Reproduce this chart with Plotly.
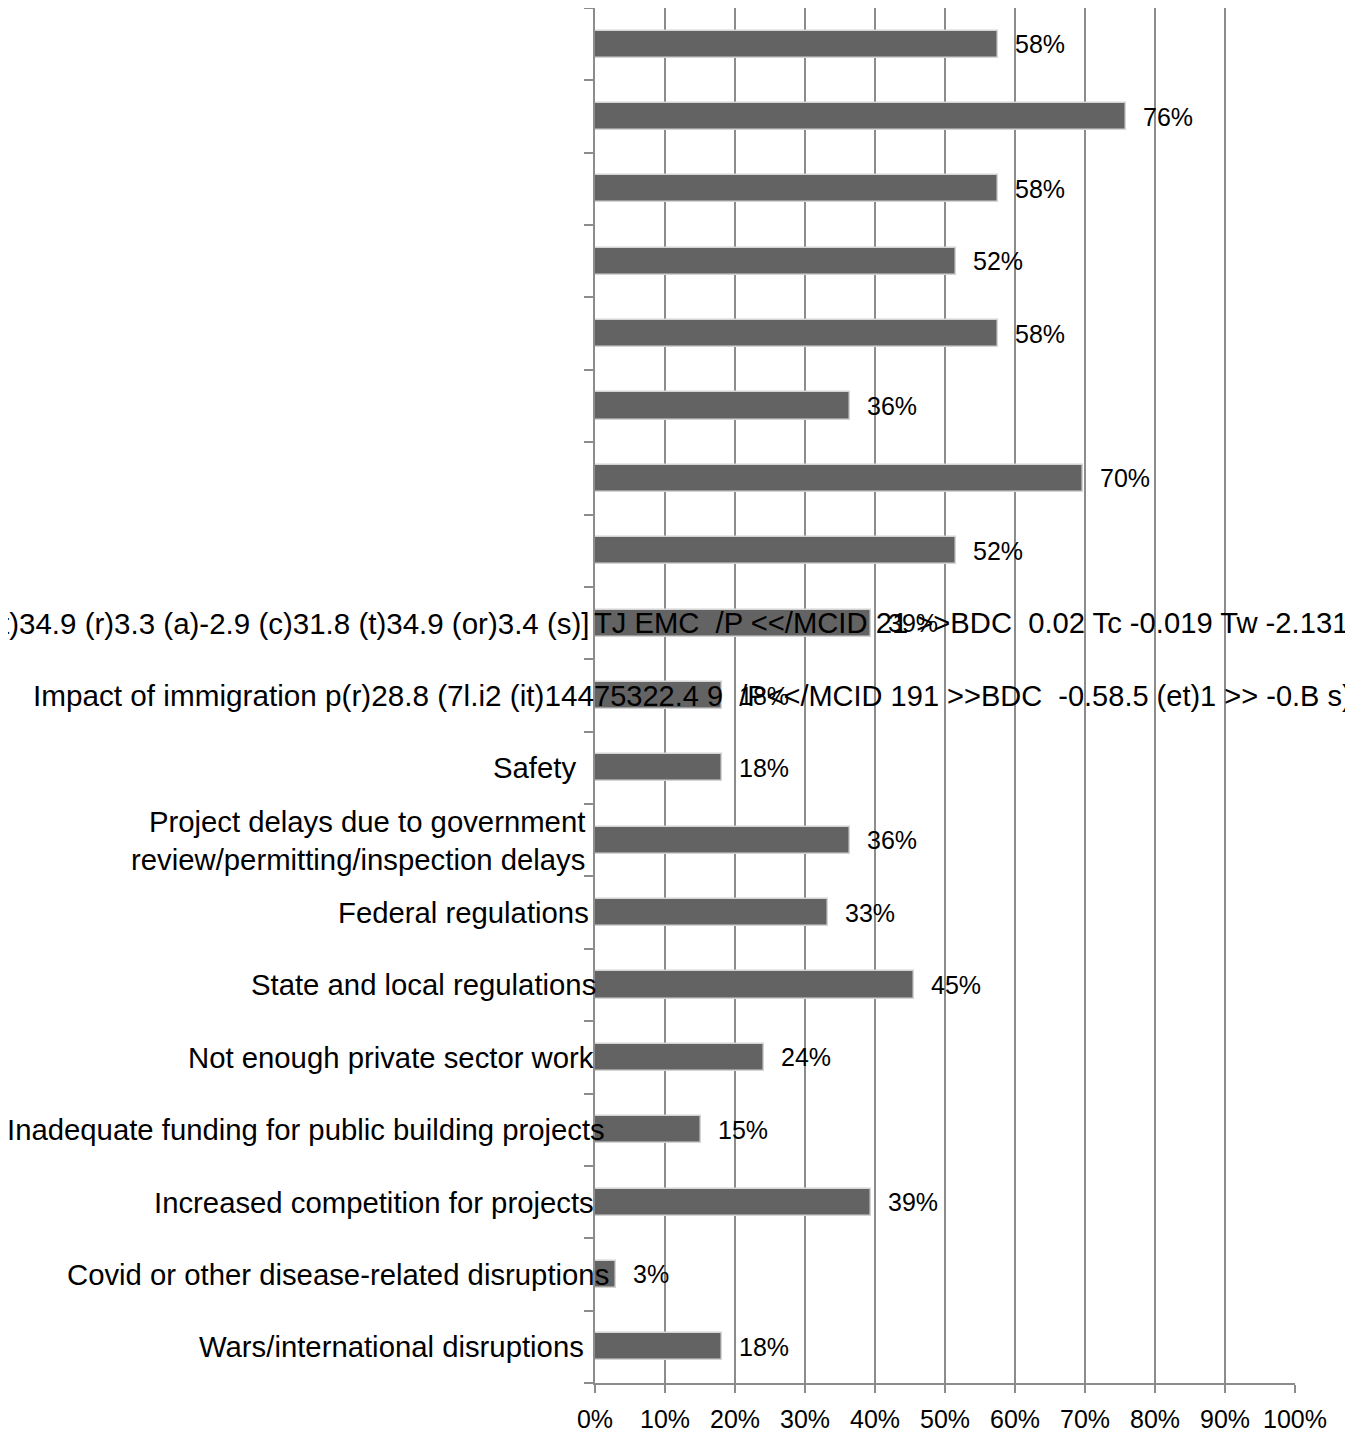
import plotly.graph_objects as go

# ---- data (top to bottom) ----
categories = [
    "", "", "", "", "", "", "", "",
    "t)34.9 (r)3.3 (a)-2.9 (c)31.8 (t)34.9 (or)3.4 (s)]",
    "Impact of immigration p(r)28.8 (7l.i2 (it)144",
    "Safety",
    "Project delays due to government<br>review/permitting/inspection delays",
    "Federal regulations",
    "State and local regulations",
    "Not enough private sector work",
    "Inadequate funding for public building projects",
    "Increased competition for projects",
    "Covid or other disease-related disruptions",
    "Wars/international disruptions",
]
label_overflow = [
    "", "", "", "", "", "", "", "",
    "TJ EMC\u00a0\u00a0/P <</MCID 21 >>BDC\u00a0\u00a00.02 Tc -0.019 Tw -2.131",
    "75322.4 9\u00a0\u00a0/P<</MCID 191 >>BDC\u00a0\u00a0-0.58.5 (et)1 >> -0.B s)",
    "", "", "", "", "", "", "", "", "",
]
values = [57.6, 75.8, 57.6, 51.5, 57.6, 36.4, 69.7, 51.5, 39.4, 18.2,
          18.2, 36.4, 33.3, 45.5, 24.2, 15.2, 39.4, 3.0, 18.2]
value_labels = ["58%", "76%", "58%", "52%", "58%", "36%", "70%", "52%", "39%", "18%",
                "18%", "36%", "33%", "45%", "24%", "15%", "39%", "3%", "18%"]
x_ticks = [0, 10, 20, 30, 40, 50, 60, 70, 80, 90, 100]
x_tick_labels = ["0%", "10%", "20%", "30%", "40%", "50%", "60%", "70%", "80%", "90%", "100%"]

# ---- style ----
label_xshift = [0, 0, 0, 0, 0, 0, 0, 0, -4, 0, -18, -9, -5, 2, 0, 11, 0, 15, -10]
label_size = [29.3] * 8 + [29.5, 29.7] + [29.3] * 9
overflow_xshift = [0] * 8 + [-2, -2] + [0] * 9
overflow_size = [29.3] * 8 + [29.2, 29.0] + [29.3] * 9
FONT = "Liberation Sans, Arial, sans-serif"
GRAY = "#8c8c8c"
BAR = "#636363"

n = len(values)
pos = list(range(n))

fig = go.Figure()
fig.add_trace(go.Bar(
    x=values, y=pos, orientation="h", width=0.375,
    marker=dict(color=BAR, line=dict(color="#d4d4d4", width=1.5)),
    hoverinfo="skip",
))

annotations = []
for i in range(n):
    if categories[i]:
        annotations.append(dict(
            x=0, xref="paper", y=pos[i], yref="y", text=categories[i], showarrow=False,
            xanchor="right", yanchor="middle", align="right", xshift=label_xshift[i],
            borderpad=0, font=dict(family=FONT, size=label_size[i], color="black"),
        ))
    if label_overflow[i]:
        annotations.append(dict(
            x=0, xref="paper", y=pos[i], yref="y", text=label_overflow[i], showarrow=False,
            xanchor="left", yanchor="middle", align="left", xshift=overflow_xshift[i],
            borderpad=0, font=dict(family=FONT, size=overflow_size[i], color="black"),
        ))
for i, (v, t) in enumerate(zip(values, value_labels)):
    annotations.append(dict(
        x=v, xref="x", y=pos[i], yref="y", text=t, showarrow=False,
        xanchor="left", yanchor="middle", xshift=16, borderpad=0,
        font=dict(family=FONT, size=25, color="black"),
    ))

fig.update_layout(
    width=1345, height=1426,
    margin=dict(l=587, r=58, t=0, b=51),
    paper_bgcolor="white", plot_bgcolor="white",
    showlegend=False, bargap=0,
    annotations=annotations,
    font=dict(family=FONT, size=25, color="black"),
)
fig.update_xaxes(
    range=[0, 100], tickvals=x_ticks, ticktext=x_tick_labels,
    showgrid=True, gridcolor=GRAY, gridwidth=1.5,
    showline=True, linecolor=GRAY, linewidth=1.5,
    ticks="outside", ticklen=8, tickcolor=GRAY, tickwidth=1.5,
    ticklabelstandoff=5,
    zeroline=False, tickfont=dict(family=FONT, size=25, color="black"),
)
fig.update_yaxes(
    range=[n - 0.5, -0.5],
    tickvals=[k - 0.5 for k in range(n + 1)], showticklabels=False,
    showgrid=False, zeroline=False,
    showline=True, linecolor=GRAY, linewidth=1.5,
    ticks="outside", ticklen=9, tickcolor=GRAY, tickwidth=1.5,
)

fig.write_html("out.html")
